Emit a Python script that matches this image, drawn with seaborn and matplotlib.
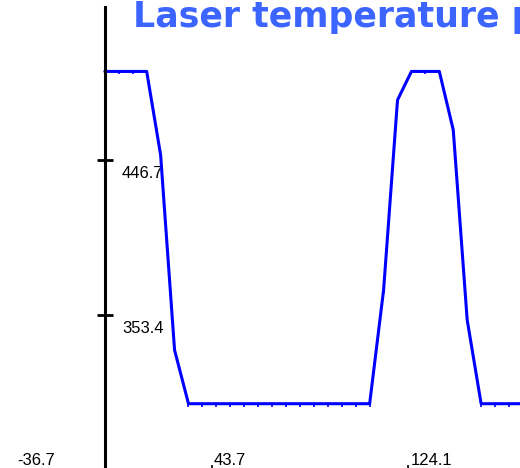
import pandas as pd
import matplotlib
matplotlib.use('Agg')
import matplotlib.pyplot as plt
import matplotlib.transforms as mtransforms
import seaborn as sns

time_s = [0.0, 5.7, 11.4, 17.1, 22.8, 28.5, 34.2, 39.9, 45.6, 51.3,
          57.0, 62.7, 68.4, 74.1, 79.8, 85.5, 91.2, 96.9, 102.6, 108.3,
          114.0, 119.7, 125.4, 131.1, 136.8, 142.5, 148.2, 153.9, 159.6,
          165.3, 171.0]
temperature = [500, 500, 500, 500, 449.7, 332.3, 300, 300, 300, 300,
               300, 300, 300, 300, 300, 300, 300, 300, 300, 300,
               368.4, 482.8, 500, 500, 500, 464.8, 350.4, 300, 300,
               300, 300]
x_ticks = [-36.7, 43.7, 124.1]
y_ticks = [353.4, 446.7]

df = pd.DataFrame({'time': time_s, 'temp': temperature})

sns.set_style('white')
plt.rcParams['font.family'] = ['Liberation Sans', 'DejaVu Sans']

fig = plt.figure(figsize=(5.2, 4.68), dpi=100)
ax = fig.add_axes([0, 0, 1, 1])
ax.set_facecolor('white')

sns.lineplot(data=df, x='time', y='temp', ax=ax, color='#0000FF',
             linewidth=2.2, marker=3, markersize=1.9, markeredgewidth=1.2,
             markeredgecolor='#0000FF', markerfacecolor='#0000FF')

for s in ['top', 'right', 'bottom']:
    ax.spines[s].set_visible(False)
ax.spines['left'].set_position(('data', 0))
ax.spines['left'].set_linewidth(2.2)
ax.spines['left'].set_color('black')

ax.set_xlim(-42.9, 169.8)
ax.set_ylim(261.3, 543.0)
ax.spines['left'].set_bounds(261.3, 538.8)

ax.set_xticks(x_ticks)
ax.set_yticks(y_ticks)
ax.set_xticklabels([f'{v:.1f}' for v in x_ticks])
ax.set_yticklabels([f'{v:.1f}' for v in y_ticks])
ax.tick_params(axis='y', left=True, direction='inout', length=11.5, width=2,
               colors='black', labelsize=12)
ax.tick_params(axis='x', bottom=True, direction='in', length=2, width=1.2,
               colors='black', labelsize=12)
ax.set_xlabel('')
ax.set_ylabel('')

# labels sit to the right/below of the y ticks and above the x ticks
off_y = mtransforms.offset_copy(ax.spines['left'].get_spine_transform(),
                                fig=fig, x=17, y=-18, units='dots')
for t in ax.yaxis.get_major_ticks():
    t.label1.set_transform(off_y)
    t.label1.set_horizontalalignment('left')
    t.label1.set_verticalalignment('baseline')

off_x = mtransforms.offset_copy(ax.get_xaxis_transform(),
                                fig=fig, x=2, y=3, units='dots')
for t, v in zip(ax.xaxis.get_major_ticks(), x_ticks):
    t.label1.set_transform(off_x)
    t.label1.set_horizontalalignment('left')
    t.label1.set_verticalalignment('baseline')
    if v < 0:
        t.tick1line.set_visible(False)

fig.text(133 / 520, 1 - 27 / 468, 'Laser temperature profile',
         fontsize=25, fontweight='bold', color='#3C64FF',
         family='DejaVu Sans', ha='left', va='baseline')

fig.savefig('out.png', dpi=100, facecolor='white')
